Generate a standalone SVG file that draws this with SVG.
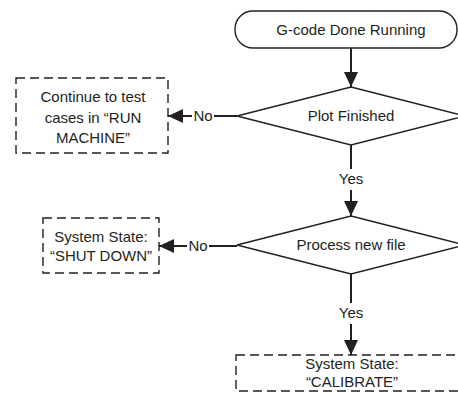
<svg xmlns="http://www.w3.org/2000/svg" width="458" height="393" viewBox="0 0 458 393">
  <style>
    .shape { fill: #ffffff; stroke: #231f20; stroke-width: 1.4; }
    .dashed { fill: #ffffff; stroke: #231f20; stroke-width: 1.4; stroke-dasharray: 9 5; }
    .wire { fill: none; stroke: #231f20; stroke-width: 2; }
    .label { font-family: "Liberation Sans", Arial, sans-serif; font-size: 15px; fill: #231f20; text-anchor: middle; }
  </style>
  <defs>
    <marker id="arrow" markerUnits="userSpaceOnUse" markerWidth="16" markerHeight="14" refX="15" refY="7" orient="auto">
      <path d="M0,0 L15,7 L0,14 Z" fill="#231f20"/>
    </marker>
  </defs>

  <rect width="458" height="393" fill="#ffffff"/>

  <!-- start terminator -->
  <g id="start">
    <rect class="shape" x="235" y="11" width="222" height="37" rx="18" ry="18"/>
    <text class="label" x="351" y="35">G-code Done Running</text>
  </g>

  <!-- decision: plot finished -->
  <g id="plot-finished">
    <polygon class="shape" points="351,87 465,116 351,145 237,116"/>
    <text class="label" x="351" y="121">Plot Finished</text>
  </g>

  <!-- branch: continue testing -->
  <g id="run-machine">
    <rect class="dashed" x="16" y="78" width="152" height="75"/>
    <text class="label" x="93" y="102">Continue to test</text>
    <text class="label" x="93" y="123">cases in “RUN</text>
    <text class="label" x="93" y="143">MACHINE”</text>
  </g>

  <!-- decision: process new file -->
  <g id="process-new-file">
    <polygon class="shape" points="351,216 465,245 351,274 237,245"/>
    <text class="label" x="351" y="250">Process new file</text>
  </g>

  <!-- branch: shut down -->
  <g id="shut-down">
    <rect class="dashed" x="43" y="218" width="116" height="55"/>
    <text class="label" x="101" y="242">System State:</text>
    <text class="label" x="101" y="261">“SHUT DOWN”</text>
  </g>

  <!-- branch: calibrate -->
  <g id="calibrate">
    <rect class="dashed" x="236" y="355" width="240" height="36"/>
    <text class="label" x="352" y="369">System State:</text>
    <text class="label" x="352" y="387">“CALIBRATE”</text>
  </g>

  <!-- connectors -->
  <g id="connectors">
    <line class="wire" x1="351" y1="48" x2="351" y2="87" marker-end="url(#arrow)"/>

    <line class="wire" x1="351" y1="145" x2="351" y2="169"/>
    <text class="label" x="351" y="184">Yes</text>
    <line class="wire" x1="351" y1="190" x2="351" y2="216" marker-end="url(#arrow)"/>

    <line class="wire" x1="237" y1="116" x2="214" y2="116"/>
    <text class="label" x="203" y="121">No</text>
    <line class="wire" x1="192" y1="116" x2="168" y2="116" marker-end="url(#arrow)"/>

    <line class="wire" x1="237" y1="246" x2="209" y2="246"/>
    <text class="label" x="198" y="251">No</text>
    <line class="wire" x1="187" y1="246" x2="159" y2="246" marker-end="url(#arrow)"/>

    <line class="wire" x1="351" y1="274" x2="351" y2="303"/>
    <text class="label" x="351" y="318">Yes</text>
    <line class="wire" x1="351" y1="324" x2="351" y2="355" marker-end="url(#arrow)"/>
  </g>
</svg>
